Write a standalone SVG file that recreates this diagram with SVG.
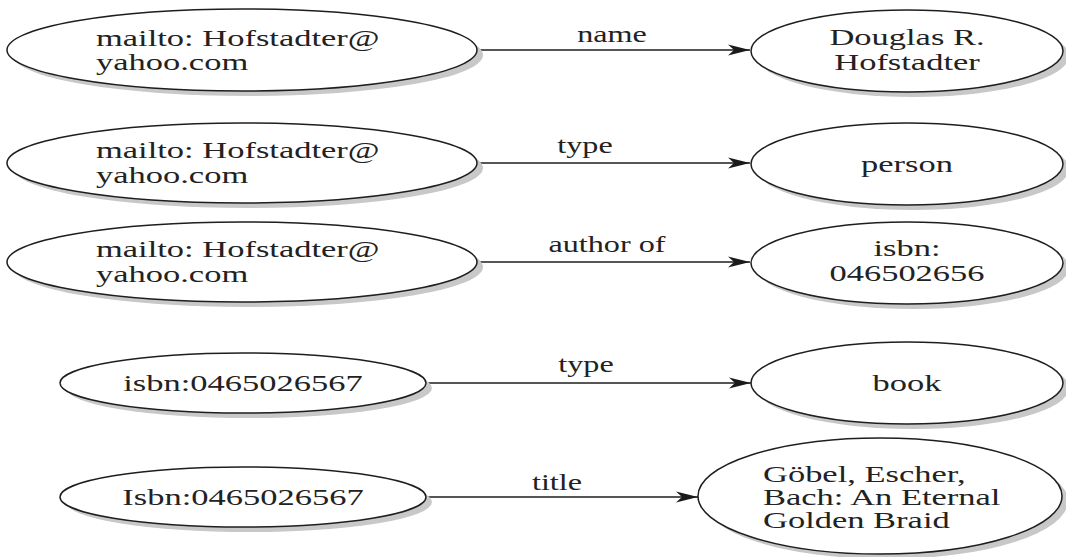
<svg xmlns="http://www.w3.org/2000/svg" width="1066" height="557" viewBox="0 0 1066 557">
<defs>
<marker id="arr" markerWidth="24" markerHeight="14" refX="22" refY="7" orient="auto" markerUnits="userSpaceOnUse">
<path d="M0,1.5 L22,7 L0,12.5 L6,7 Z" fill="#1a1a1a"/>
</marker>
</defs>
<style>
.sh{fill:#c8c8c8;stroke:none}
.nd{fill:#ffffff;stroke:#1e1e1e;stroke-width:1.5}
text{font-family:"Liberation Serif","Times New Roman",serif;font-size:23px;fill:#222}
.c{text-anchor:middle}
.edge{stroke:#1e1e1e;stroke-width:1.4;fill:none;marker-end:url(#arr)}
</style>
<rect width="1066" height="557" fill="#ffffff"/>
<g id="connectors">
<line class="edge" x1="477" y1="50" x2="750" y2="50"/>
<line class="edge" x1="477" y1="163" x2="750" y2="163"/>
<line class="edge" x1="477" y1="262" x2="750" y2="262"/>
<line class="edge" x1="426" y1="383" x2="751" y2="383"/>
<line class="edge" x1="426" y1="497" x2="698" y2="497"/>
<text class="c" transform="translate(612,42) scale(1.4,1)">name</text>
<text class="c" transform="translate(585,153) scale(1.4,1)">type</text>
<text class="c" transform="translate(607,252) scale(1.4,1)">author of</text>
<text class="c" transform="translate(586,372) scale(1.4,1)">type</text>
<text class="c" transform="translate(557,490) scale(1.4,1)">title</text>
</g>
<g id="n1">
<ellipse class="sh" cx="248" cy="55" rx="235" ry="41"/>
<ellipse class="nd" cx="242" cy="50" rx="235" ry="41"/>
<text transform="translate(96,46) scale(1.5,1)">mailto: Hofstadter@</text>
<text transform="translate(96,70) scale(1.5,1)">yahoo.com</text>
</g>
<g id="n2">
<ellipse class="sh" cx="913" cy="56" rx="156" ry="41"/>
<ellipse class="nd" cx="907" cy="51" rx="156" ry="41"/>
<text class="c" transform="translate(907,45) scale(1.5,1)">Douglas R.</text>
<text class="c" transform="translate(907,70) scale(1.5,1)">Hofstadter</text>
</g>
<g id="n3">
<ellipse class="sh" cx="248" cy="168" rx="235" ry="40"/>
<ellipse class="nd" cx="242" cy="163" rx="235" ry="40"/>
<text transform="translate(96,158) scale(1.5,1)">mailto: Hofstadter@</text>
<text transform="translate(96,183) scale(1.5,1)">yahoo.com</text>
</g>
<g id="n4">
<ellipse class="sh" cx="913" cy="169" rx="156" ry="41"/>
<ellipse class="nd" cx="907" cy="164" rx="156" ry="41"/>
<text class="c" transform="translate(907,172) scale(1.5,1)">person</text>
</g>
<g id="n5">
<ellipse class="sh" cx="248" cy="267" rx="235" ry="40"/>
<ellipse class="nd" cx="242" cy="262" rx="235" ry="40"/>
<text transform="translate(96,257) scale(1.5,1)">mailto: Hofstadter@</text>
<text transform="translate(96,282) scale(1.5,1)">yahoo.com</text>
</g>
<g id="n6">
<ellipse class="sh" cx="913" cy="268" rx="156" ry="41"/>
<ellipse class="nd" cx="907" cy="263" rx="156" ry="41"/>
<text class="c" transform="translate(907,256) scale(1.5,1)">isbn:</text>
<text class="c" transform="translate(907,281) scale(1.5,1)">046502656</text>
</g>
<g id="n7">
<ellipse class="sh" cx="249" cy="388" rx="183" ry="30"/>
<ellipse class="nd" cx="243" cy="383" rx="183" ry="30"/>
<text class="c" transform="translate(243,391) scale(1.5,1)">isbn:0465026567</text>
</g>
<g id="n8">
<ellipse class="sh" cx="913" cy="388" rx="156" ry="41"/>
<ellipse class="nd" cx="907" cy="383" rx="156" ry="41"/>
<text class="c" transform="translate(907,391) scale(1.5,1)">book</text>
</g>
<g id="n9">
<ellipse class="sh" cx="249" cy="502" rx="183" ry="30"/>
<ellipse class="nd" cx="243" cy="497" rx="183" ry="30"/>
<text class="c" transform="translate(243,505) scale(1.5,1)">Isbn:0465026567</text>
</g>
<g id="n10">
<ellipse class="sh" cx="886" cy="501" rx="182" ry="58"/>
<ellipse class="nd" cx="880" cy="496" rx="182" ry="58"/>
<text transform="translate(763,482) scale(1.5,1)">Göbel, Escher,</text>
<text transform="translate(763,505) scale(1.5,1)">Bach: An Eternal</text>
<text transform="translate(763,528) scale(1.5,1)">Golden Braid</text>
</g>
</svg>
